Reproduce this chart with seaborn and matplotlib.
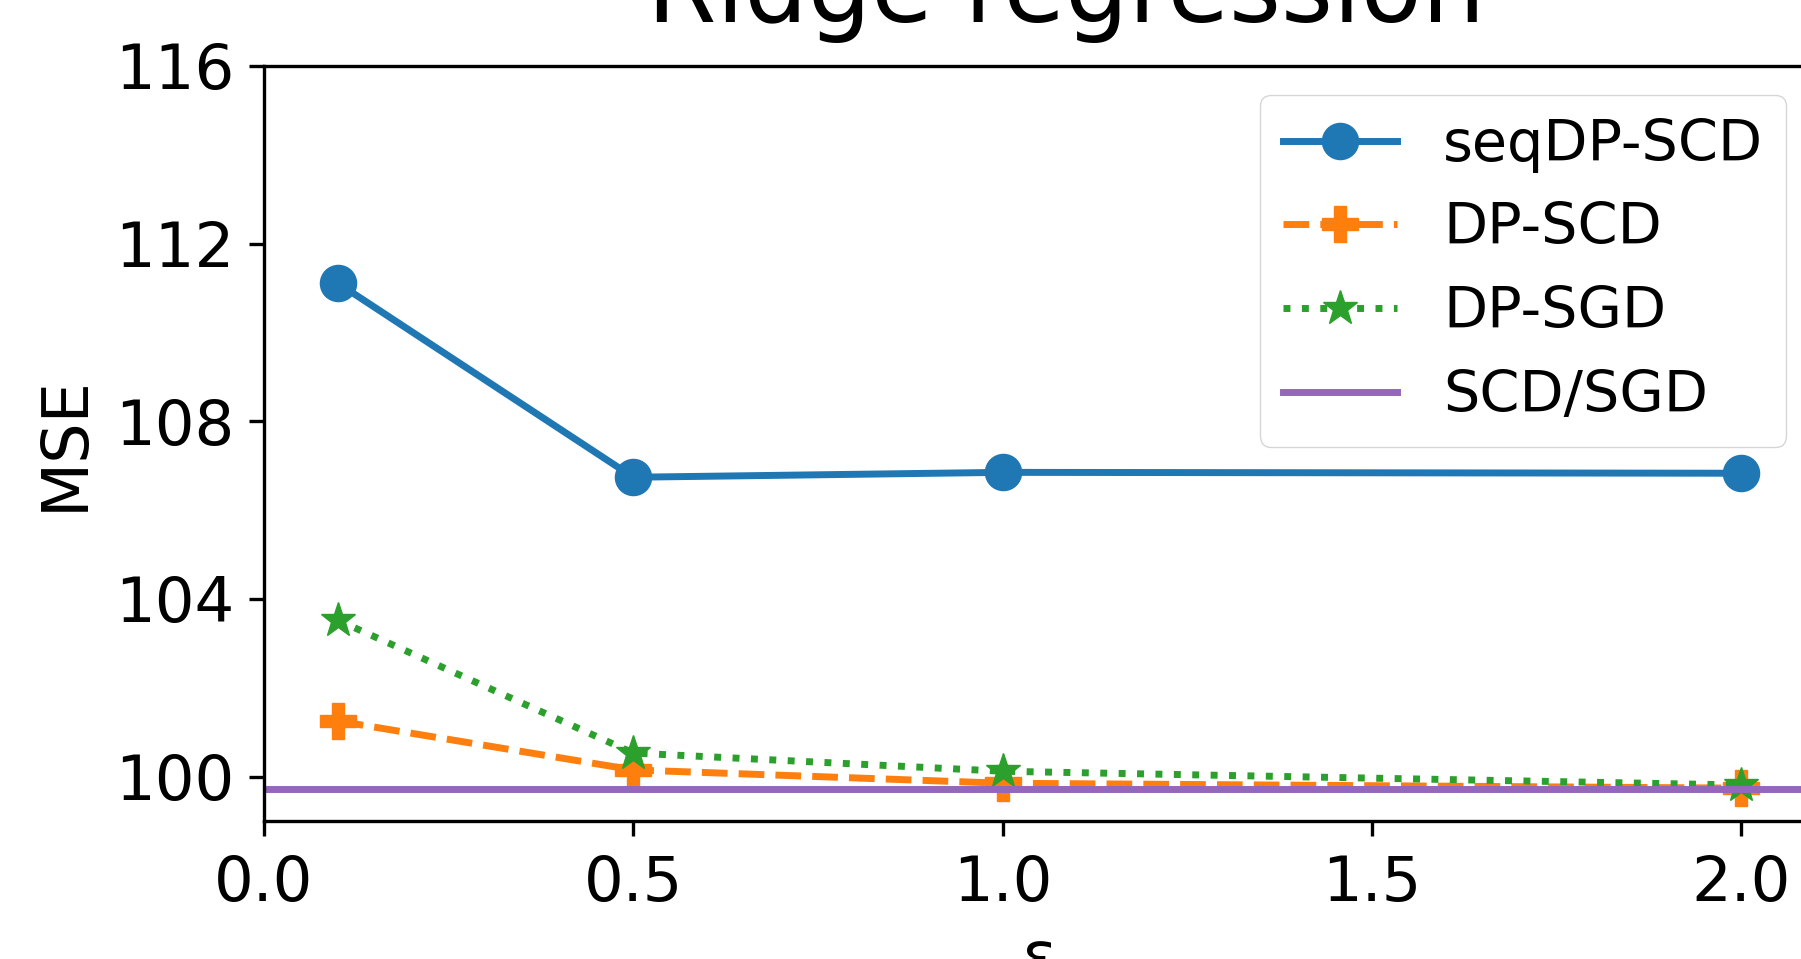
import matplotlib
matplotlib.use("Agg")
import matplotlib.pyplot as plt
import seaborn as sns

# ---- data ----
epsilon = [0.1, 0.5, 1.0, 2.0]
seqdp_scd = [111.11, 106.74, 106.85, 106.83]
dp_scd = [101.25, 100.15, 99.85, 99.74]
dp_sgd = [103.52, 100.53, 100.12, 99.81]
scd_sgd = 99.73
x_ticks = [0.0, 0.5, 1.0, 1.5, 2.0]
y_ticks = [100, 104, 108, 112, 116]
series_names = ["seqDP-SCD", "DP-SCD", "DP-SGD", "SCD/SGD"]

plt.rcParams["font.family"] = ["DejaVu Sans"]

fig = plt.figure(figsize=(18.01, 9.59), dpi=100)
ax = fig.add_axes([0.14659, 0.1439, 0.86119, 0.7873])

blue, orange, green, purple = "#1f77b4", "#ff7f0e", "#2ca02c", "#9467bd"
lw = 5.0
ms = 26

sns.lineplot(x=epsilon, y=seqdp_scd, ax=ax, color=blue, linestyle="-", marker="o",
             markersize=ms, markeredgecolor=blue, markeredgewidth=1, linewidth=lw,
             label=series_names[0])
sns.lineplot(x=epsilon, y=dp_scd, ax=ax, color=orange, linestyle="--", marker="P",
             markersize=ms, markeredgecolor=orange, markeredgewidth=1, linewidth=lw,
             label=series_names[1])
sns.lineplot(x=epsilon, y=dp_sgd, ax=ax, color=green, linestyle=":", marker="*",
             markersize=ms, markeredgecolor=green, markeredgewidth=1, linewidth=lw,
             label=series_names[2])
ax.axhline(scd_sgd, color=purple, linewidth=lw, label=series_names[3])

ax.set_xlim(0, 2.1)
ax.set_ylim(99, 116)
ax.set_xticks(x_ticks)
ax.set_yticks(y_ticks)
ax.set_xticklabels([f"{v:.1f}" for v in x_ticks])
ax.set_yticklabels([str(v) for v in y_ticks])

for s in ax.spines.values():
    s.set_linewidth(2.4)
ax.tick_params(axis="both", direction="out", length=11, width=2.4, labelsize=45)
ax.tick_params(axis="x", pad=13)
ax.tick_params(axis="y", pad=10)

ax.set_xlabel("ε", fontsize=46, labelpad=10)
ax.set_ylabel("MSE", fontsize=46, labelpad=14)
ax.set_title("Ridge regression", fontsize=72, x=0.517, y=1.058, pad=0)

ax.legend(loc="upper right", fontsize=41.3)

fig.savefig("out.png", dpi=100)
